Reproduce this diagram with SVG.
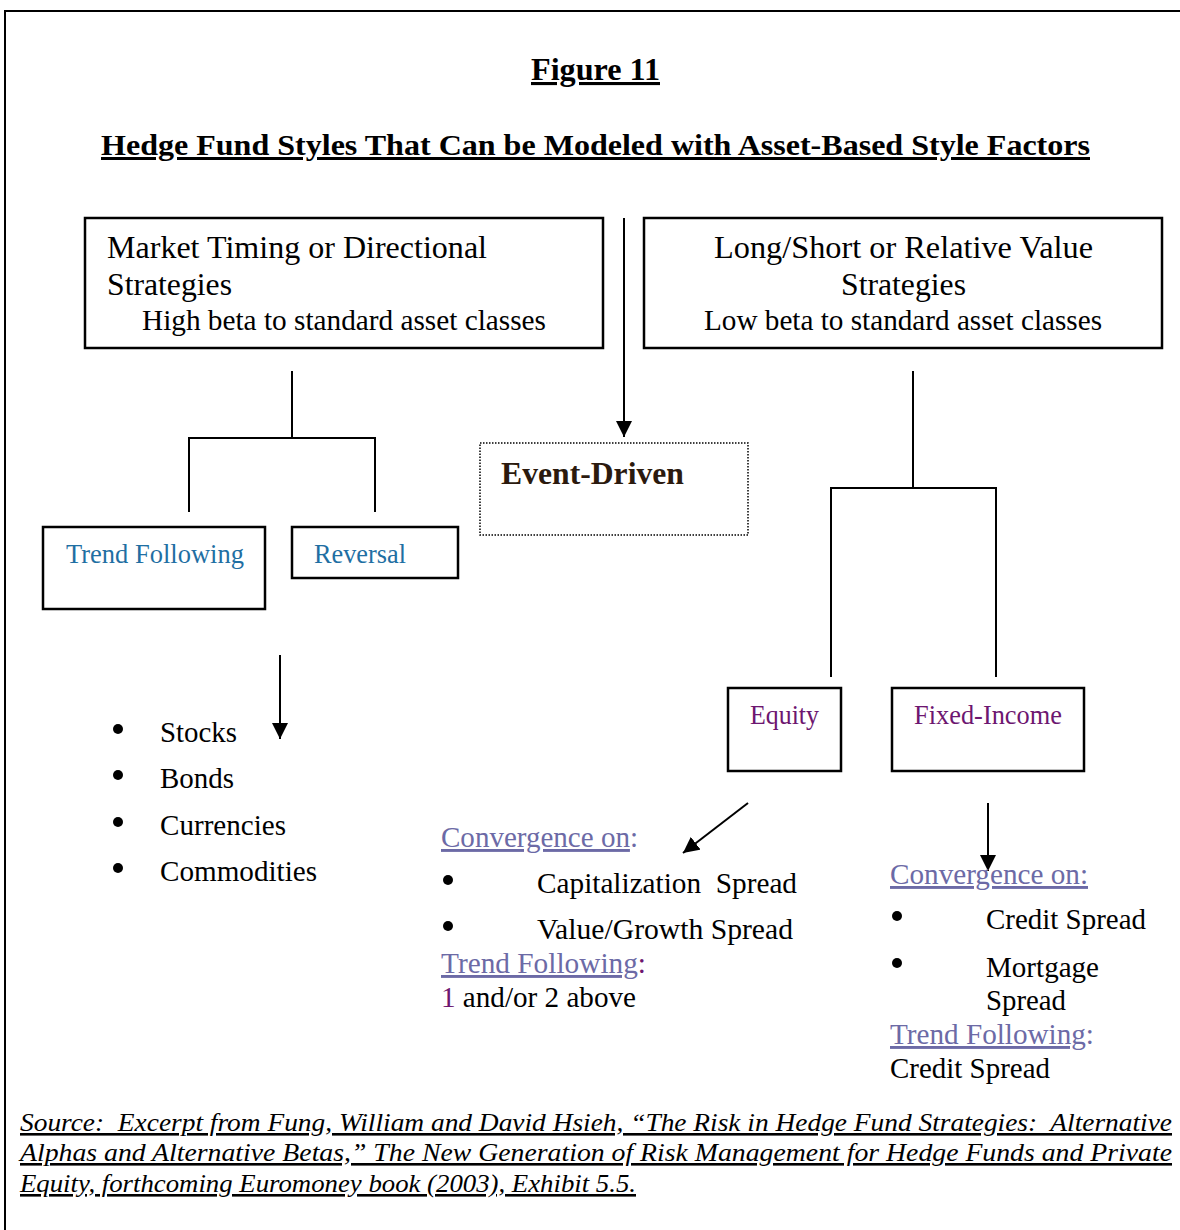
<svg xmlns="http://www.w3.org/2000/svg" width="1180" height="1230" viewBox="0 0 1180 1230">
<style>
text{font-family:"Liberation Serif","Times New Roman",serif;fill:#000}
.t{font-size:32px}
.s{font-size:29px}
.m{font-size:26.5px}
.box{fill:#fff;stroke:#000;stroke-width:2.5}
.ln{stroke:#000;stroke-width:2;fill:none}
.blue{fill:#1f6fa3}
.purp{fill:#6d1670}
.lav{fill:#6c6aa6}
.u{text-decoration:underline}
.foot{font-size:26px;font-style:italic}
</style>
<defs>
<marker id="ah2" viewBox="0 0 10 10" refX="10" refY="5" markerWidth="16" markerHeight="16" markerUnits="userSpaceOnUse" orient="auto"><path d="M0,0 L10,5 L0,10 z" fill="#000"/></marker>
</defs>
<rect x="0" y="0" width="1180" height="1230" fill="#fff"/>
<path d="M5,1230 V11 H1180" class="ln"/>
<g id="titles">
<text x="531" y="80" font-size="31" font-weight="bold" class="u" textLength="129" lengthAdjust="spacingAndGlyphs">Figure 11</text>
<text x="101" y="155" font-size="30" font-weight="bold" class="u" textLength="989" lengthAdjust="spacingAndGlyphs">Hedge Fund Styles That Can be Modeled with Asset-Based Style Factors</text>
</g>
<g id="connectors">
<line x1="624" y1="218" x2="624" y2="437" class="ln" marker-end="url(#ah2)"/>
<path d="M292,371 V438 M189,512 V438 H375 V512" class="ln"/>
<path d="M913,371 V488 M831,677 V488 H996 V677" class="ln"/>
<line x1="280" y1="655" x2="280" y2="739" class="ln" marker-end="url(#ah2)"/>
<line x1="748" y1="803" x2="683" y2="853" class="ln" marker-end="url(#ah2)"/>
<line x1="988" y1="803" x2="988" y2="871" class="ln" marker-end="url(#ah2)"/>
</g>
<g id="market-timing">
<rect x="85" y="218" width="518" height="130" class="box"/>
<text x="107" y="258" class="t" textLength="380" lengthAdjust="spacingAndGlyphs">Market Timing or Directional</text>
<text x="107" y="295" class="t" textLength="125" lengthAdjust="spacingAndGlyphs">Strategies</text>
<text x="142" y="330" class="s" textLength="404" lengthAdjust="spacingAndGlyphs">High beta to standard asset classes</text>
</g>
<g id="long-short">
<rect x="644" y="218" width="518" height="130" class="box"/>
<text x="714" y="258" class="t" textLength="379" lengthAdjust="spacingAndGlyphs">Long/Short or Relative Value</text>
<text x="841" y="295" class="t" textLength="125" lengthAdjust="spacingAndGlyphs">Strategies</text>
<text x="704" y="330" class="s" textLength="398" lengthAdjust="spacingAndGlyphs">Low beta to standard asset classes</text>
</g>
<g id="event-driven">
<rect x="480" y="443" width="268" height="92" fill="#fff" stroke="#000" stroke-width="1.5" stroke-dasharray="1.5,1.5"/>
<text x="501" y="484" font-size="31" font-weight="bold" style="fill:#2b1a0e" textLength="183" lengthAdjust="spacingAndGlyphs">Event-Driven</text>
</g>
<g id="trend-following">
<rect x="43" y="527" width="222" height="82" class="box"/>
<text x="66" y="563" class="m blue" textLength="178" lengthAdjust="spacingAndGlyphs">Trend Following</text>
</g>
<g id="reversal">
<rect x="292" y="527" width="166" height="51" class="box"/>
<text x="314" y="563" class="m blue" textLength="92" lengthAdjust="spacingAndGlyphs">Reversal</text>
</g>
<g id="asset-list">
<circle cx="118" cy="729" r="5"/>
<circle cx="118" cy="775" r="5"/>
<circle cx="118" cy="822" r="5"/>
<circle cx="118" cy="868" r="5"/>
<text x="160" y="742" class="s" textLength="77" lengthAdjust="spacingAndGlyphs">Stocks</text>
<text x="160" y="788" class="s" textLength="74" lengthAdjust="spacingAndGlyphs">Bonds</text>
<text x="160" y="835" class="s" textLength="126" lengthAdjust="spacingAndGlyphs">Currencies</text>
<text x="160" y="881" class="s" textLength="157" lengthAdjust="spacingAndGlyphs">Commodities</text>
</g>
<g id="equity">
<rect x="728" y="688" width="113" height="83" class="box"/>
<text x="750" y="724" class="m purp" textLength="69" lengthAdjust="spacingAndGlyphs">Equity</text>
</g>
<g id="fixed-income">
<rect x="892" y="688" width="192" height="83" class="box"/>
<text x="914" y="724" class="m purp" textLength="148" lengthAdjust="spacingAndGlyphs">Fixed-Income</text>
</g>
<g id="equity-details">
<text x="441" y="847" class="s" textLength="197" lengthAdjust="spacingAndGlyphs"><tspan class="lav u">Convergence on</tspan><tspan class="lav">:</tspan></text>
<circle cx="448" cy="880" r="5"/>
<circle cx="448" cy="926" r="5"/>
<text x="537" y="893" class="s" xml:space="preserve" textLength="260" lengthAdjust="spacingAndGlyphs">Capitalization  Spread</text>
<text x="537" y="939" class="s" textLength="256" lengthAdjust="spacingAndGlyphs">Value/Growth Spread</text>
<text x="441" y="973" class="s" textLength="205" lengthAdjust="spacingAndGlyphs"><tspan class="lav u">Trend Following</tspan><tspan class="purp">:</tspan></text>
<text x="441" y="1007" class="s" textLength="195" lengthAdjust="spacingAndGlyphs"><tspan class="purp">1</tspan> and/or 2 above</text>
</g>
<g id="fixed-income-details">
<text x="890" y="884" class="s lav u" textLength="198" lengthAdjust="spacingAndGlyphs">Convergence on:</text>
<circle cx="897" cy="916" r="5"/>
<circle cx="897" cy="963" r="5"/>
<text x="986" y="929" class="s" textLength="160" lengthAdjust="spacingAndGlyphs">Credit Spread</text>
<text x="986" y="977" class="s" textLength="113" lengthAdjust="spacingAndGlyphs">Mortgage</text>
<text x="986" y="1010" class="s" textLength="80" lengthAdjust="spacingAndGlyphs">Spread</text>
<text x="890" y="1044" class="s" textLength="204" lengthAdjust="spacingAndGlyphs"><tspan class="lav u">Trend Following</tspan><tspan class="lav">:</tspan></text>
<text x="890" y="1078" class="s" textLength="160" lengthAdjust="spacingAndGlyphs">Credit Spread</text>
</g>
<g id="source">
<text x="20" y="1131" class="foot u" xml:space="preserve" textLength="1152" lengthAdjust="spacingAndGlyphs">Source:  Excerpt from Fung, William and David Hsieh, “The Risk in Hedge Fund Strategies:  Alternative</text>
<text x="20" y="1161" class="foot u" textLength="1152" lengthAdjust="spacingAndGlyphs">Alphas and Alternative Betas,” The New Generation of Risk Management for Hedge Funds and Private</text>
<text x="20" y="1192" class="foot u" textLength="616" lengthAdjust="spacingAndGlyphs">Equity, forthcoming Euromoney book (2003), Exhibit 5.5.</text>
</g>
</svg>
